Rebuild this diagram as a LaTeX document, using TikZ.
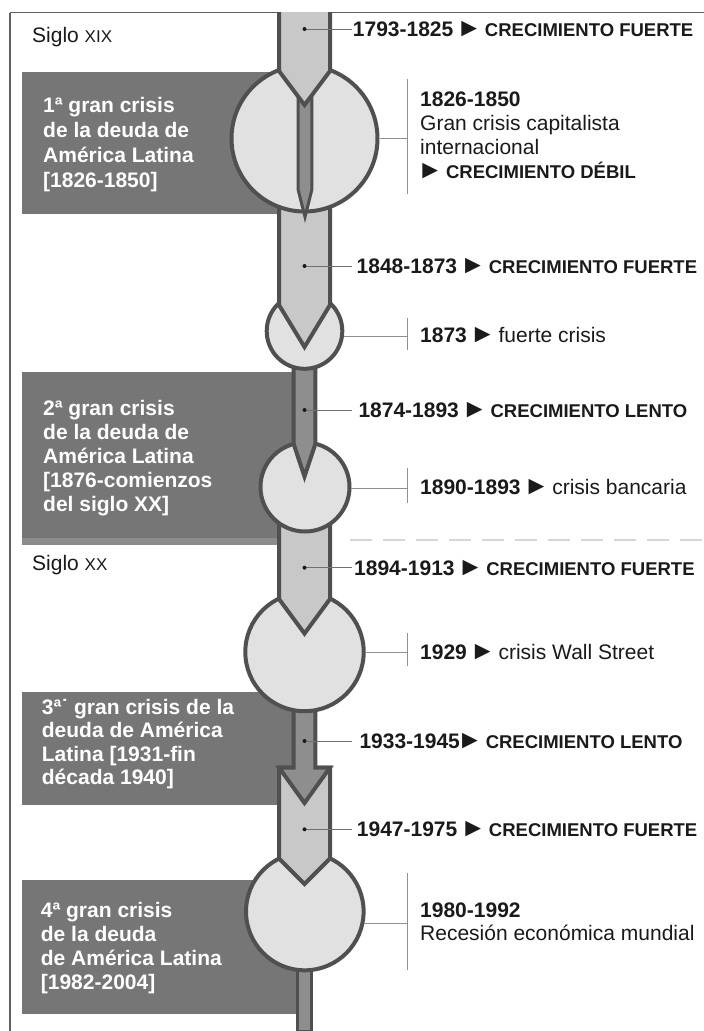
\documentclass[tikz,border=0pt]{standalone}
\usepackage{fontspec}
\setmainfont{Liberation Sans}
\definecolor{boxgray}{HTML}{767676}
\definecolor{barlight}{HTML}{C8C8C8}
\definecolor{barmid}{HTML}{8E8E8E}
\definecolor{circfill}{HTML}{E1E1E1}
\definecolor{edge}{HTML}{505050}
\definecolor{framegray}{HTML}{606060}
\definecolor{conngray}{HTML}{707070}
\definecolor{tickgray}{HTML}{909090}
\definecolor{stripgray}{HTML}{8C8C8C}
\definecolor{dashgray}{HTML}{D6D6D6}
\definecolor{ink}{HTML}{1A1A1A}
\newcommand{\yr}[1]{{\bfseries #1}}
\newcommand{\cp}[1]{{\fontsize{18.5}{24}\selectfont\bfseries #1}}
\newcommand{\tri}{\makebox[20pt][c]{\fontsize{26}{24}\selectfont ►}}
\newcommand{\smc}[1]{{\fontsize{17}{17}\selectfont #1}}
\begin{document}
\begin{tikzpicture}[x=1pt,y=-1pt,
  edgeline/.style={draw=edge, line width=4pt, line join=miter},
  thinline/.style={draw=edge, line width=3pt, line join=miter, miter limit=25},
  crc/.style={circle, draw=edge, fill=circfill, line width=4pt, inner sep=0pt, outer sep=2pt},
  boxtxt/.style={anchor=west, align=left, text=white, font=\fontsize{21}{24}\selectfont\bfseries, inner sep=0pt},
  lbl/.style={anchor=west, align=left, inner sep=0pt, text=ink, font=\fontsize{21}{24}\selectfont},
  conn/.style={draw=conngray, line width=1pt},
  tickline/.style={draw=tickgray, line width=1pt},
  framel/.style={draw=framegray, line width=1.5pt}
]
\useasboundingbox (0,0) rectangle (704,1031);
\fill[white] (0,0) rectangle (704,1031);
% frame
\draw[framel] (10,12.5) -- (704,12.5);
\draw[framel] (10,12.5) -- (10,1031);
% boxes
\fill[boxgray] (21.5,71.7) rectangle (290,214.3);
\fill[boxgray] (21.5,372.3) rectangle (300,545);
\fill[stripgray] (21.5,537.5) rectangle (290,545);
\fill[boxgray] (21.5,691.7) rectangle (300,805);
\fill[boxgray] (21.5,880) rectangle (300,1014);
% dashed century line
\draw[dashgray, line width=2.5pt, dash pattern=on 22pt off 11pt] (350,540) -- (704,540);
% timeline, back to front
\filldraw[fill=barmid, draw=edge, line width=3.5pt] (297.5,950) -- (297.5,1032) -- (311.5,1032) -- (311.5,950);
\node[crc, minimum size=117.6pt] (c5) at (304.8,911.5) {};
\filldraw[fill=barlight, edgeline] (279,767.5) -- (279,858.5) -- (304.5,884) -- (330,858.5) -- (330,767.5) -- cycle;
\filldraw[fill=barmid, edgeline] (293.7,690) -- (293.7,767.5) -- (279,767.5) -- (304.5,803) -- (330,767.5) -- (315.3,767.5) -- (315.3,690);
\node[crc, minimum size=118.4pt] (c4) at (304.5,652) {};
\filldraw[fill=barlight, edgeline] (279,515) -- (279,599) -- (304.5,633.5) -- (330,599) -- (330,515);
\node[crc, minimum size=89pt] (c3) at (305,487) {};
\filldraw[fill=barmid, edgeline] (293.7,355) -- (293.7,444) -- (304.5,476.5) -- (315.3,444) -- (315.3,355);
\node[crc, minimum size=75.6pt] (c2) at (304.5,331) {};
\filldraw[fill=barlight, edgeline] (279,195) -- (279,305) -- (304.5,347) -- (330,305) -- (330,195);
\node[crc, minimum size=146pt] (c1) at (304.5,138.5) {};
\filldraw[fill=barmid, thinline] (298.2,95) -- (298.2,190) -- (305,217) -- (311.8,190) -- (311.8,95);
\filldraw[fill=barlight, edgeline] (279,12) -- (279,71) -- (304.5,105) -- (330,71) -- (330,12);
% box texts
\node[boxtxt, font=\fontsize{21}{25}\selectfont\bfseries] (b1) at (43,144.7) {1ª gran crisis\\de la deuda de\\América Latina\\{[}1826-1850{]}};
\node[boxtxt] (b2) at (43,458.2) {2ª gran crisis\\de la deuda de\\América Latina\\{[}1876-comienzos\\del siglo XX{]}};
\node[boxtxt, font=\fontsize{21}{23.5}\selectfont\bfseries] (b3) at (41.7,744) {3ª˙ gran crisis de la\\deuda de América\\Latina {[}1931-fin\\década 1940{]}};
\node[boxtxt] (b4) at (40.7,948) {4ª gran crisis\\de la deuda\\de América Latina\\{[}1982-2004{]}};
% century labels
\node[lbl] (s19) at (32,37.2) {Siglo \smc{XIX}};
\node[lbl] (s20) at (32,565) {Siglo \smc{XX}};
% bar labels
\coordinate (dA) at (304.5,29);
\coordinate (dB) at (304.5,266);
\coordinate (dC) at (304.5,410);
\coordinate (dD) at (304.5,567.7);
\coordinate (dE) at (304.5,741);
\coordinate (dF) at (304.5,829.3);
\node[lbl] (lA) at (352.7,29) {\yr{1793-1825} \tri\ \cp{CRECIMIENTO FUERTE}};
\node[lbl] (lB) at (356.5,266) {\yr{1848-1873} \tri\ \cp{CRECIMIENTO FUERTE}};
\node[lbl] (lC) at (358.3,410) {\yr{1874-1893} \tri\ \cp{CRECIMIENTO LENTO}};
\node[lbl] (lD) at (354,567.7) {\yr{1894-1913} \tri\ \cp{CRECIMIENTO FUERTE}};
\node[lbl] (lE) at (359.3,741) {\yr{1933-1945}\tri\ \cp{CRECIMIENTO LENTO}};
\node[lbl] (lF) at (356.7,829.3) {\yr{1947-1975} \tri\ \cp{CRECIMIENTO FUERTE}};
\draw[conn] (dA) -- ([xshift=-1pt]lA.west);
\draw[conn] (dB) -- ([xshift=-4.8pt]lB.west);
\draw[conn] (dC) -- ([xshift=-6.6pt]lC.west);
\draw[conn] (dD) -- ([xshift=-2.3pt]lD.west);
\draw[conn] (dE) -- ([xshift=-7.6pt]lE.west);
\draw[conn] (dF) -- ([xshift=-5pt]lF.west);
\foreach \d in {dA,dB,dC,dD,dE,dF} \fill[ink] (\d) circle[radius=2pt];
% circle labels
\coordinate (t1a) at (407.3,79.3);  \coordinate (t1b) at (407.3,194);
\coordinate (t2a) at (407.3,318);   \coordinate (t2b) at (407.3,350);
\coordinate (t3a) at (407.3,468);   \coordinate (t3b) at (407.3,503);
\coordinate (t4a) at (407.3,633);   \coordinate (t4b) at (407.3,665.7);
\coordinate (t5a) at (407.3,873);   \coordinate (t5b) at (407.3,970);
\foreach \a/\b in {t1a/t1b,t2a/t2b,t3a/t3b,t4a/t4b,t5a/t5b} \draw[tickline] (\a) -- (\b);
\draw[tickline] (c1.east) -- (c1.east -| t1a);
\draw[tickline] (c2.-8) -- (c2.-8 -| t2a);
\draw[tickline] (c3.-2) -- (c3.-2 -| t3a);
\draw[tickline] (c4.east) -- (c4.east -| t4a);
\draw[tickline] (c5.-11.2) -- (c5.-11.2 -| t5a);
\node[lbl] (l1) at (420,135) {\yr{1826-1850}\\Gran crisis capitalista\\internacional\\\tri\ \cp{CRECIMIENTO DÉBIL}};
\node[lbl] (l2) at (420,335) {\yr{1873} \tri\ fuerte crisis};
\node[lbl] (l3) at (420,487) {\yr{1890-1893} \tri\ crisis bancaria};
\node[lbl] (l4) at (420,652) {\yr{1929} \tri\ crisis Wall Street};
\node[lbl, font=\fontsize{21}{23.5}\selectfont] (l5) at (420,921.6) {\yr{1980-1992}\\Recesión económica mundial};
\end{tikzpicture}
\end{document}
